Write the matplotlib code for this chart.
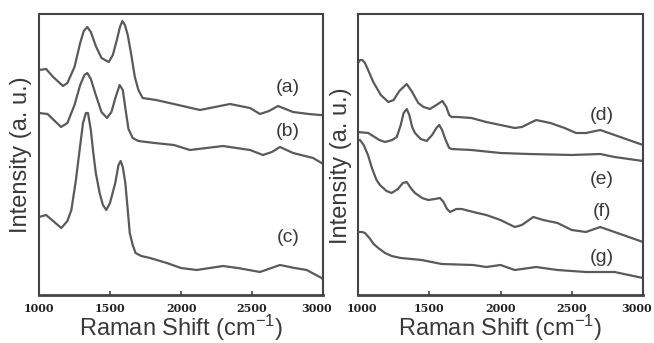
import numpy as np
import matplotlib
matplotlib.use("Agg")
import matplotlib.pyplot as plt
from matplotlib.transforms import ScaledTranslation

# ------------------------------------------------------------
# Raman spectra, intensities in arbitrary units
# ------------------------------------------------------------
x_a = [1000, 1050, 1100, 1169, 1200, 1250, 1290, 1315, 1340, 1365, 1400, 1440, 1491, 1520,
       1550, 1570, 1587, 1605, 1625, 1650, 1675, 1700, 1730, 1824, 1950, 2134, 2345, 2486,
       2556, 2620, 2683, 2789, 2900, 2979, 3000]
y_a = [225, 226, 218, 209, 212, 228, 252, 264, 268, 263, 249, 237, 233, 240,
       256, 268, 274, 270, 260, 240, 218, 205, 197, 195, 191, 185, 191, 187,
       181, 184, 189, 183, 181, 180, 180]

x_b = [1000, 1060, 1155, 1200, 1250, 1290, 1320, 1340, 1365, 1400, 1440, 1479, 1510, 1540,
       1568, 1590, 1610, 1630, 1660, 1700, 1815, 1950, 2063, 2296, 2486, 2577, 2640, 2697,
       2789, 2930, 2990, 3000]
y_b = [182, 181, 168, 172, 190, 210, 220, 222, 216, 200, 183, 177, 183, 198,
       210, 205, 185, 166, 157, 154, 152, 150, 145, 149, 145, 140, 143, 148,
       142, 137, 132, 131]

x_c = [1000, 1050, 1157, 1200, 1228, 1260, 1286, 1310, 1330, 1345, 1365, 1380, 1400, 1427,
       1450, 1474, 1500, 1537, 1560, 1575, 1590, 1608, 1625, 1639, 1660, 1680, 1720, 1782,
       1900, 2000, 2110, 2296, 2400, 2556, 2697, 2800, 2885, 2990, 3000]
y_c = [78, 80, 67, 74, 85, 115, 145, 172, 182, 182, 165, 145, 122, 102,
       90, 85, 92, 112, 130, 134, 128, 112, 85, 62, 50, 42, 39, 37,
       32, 27, 25, 29, 27, 23, 30, 27, 25, 17, 16]

x_d = [1000, 1014, 1030, 1049, 1080, 1107, 1160, 1213, 1250, 1290, 1342, 1380, 1423, 1460,
       1505, 1550, 1592, 1620, 1640, 1657, 1700, 1796, 1900, 2000, 2100, 2150, 2250, 2350,
       2450, 2530, 2600, 2700, 2800, 2900, 3000]
y_d = [232, 235, 235, 232, 222, 213, 200, 193, 195, 204, 211, 203, 192, 188,
       186, 190, 194, 188, 180, 178, 178, 177, 173, 170, 167, 168, 175, 172,
       167, 162, 162, 165, 160, 155, 150]

x_e = [1000, 1072, 1150, 1189, 1240, 1272, 1300, 1320, 1342, 1360, 1380, 1400, 1440, 1482,
       1520, 1550, 1570, 1590, 1615, 1640, 1657, 1796, 2000, 2200, 2500, 2700, 2800, 3000]
y_e = [163, 162, 155, 153, 155, 158, 170, 182, 186, 180, 168, 162, 156, 154,
       160, 167, 170, 165, 155, 147, 146, 145, 142, 141, 140, 141, 138, 134]

x_f = [1000, 1014, 1040, 1070, 1100, 1130, 1154, 1200, 1236, 1280, 1315, 1342, 1370, 1400,
       1450, 1493, 1540, 1575, 1600, 1625, 1646, 1690, 1728, 1809, 1900, 2000, 2100, 2150,
       2230, 2300, 2400, 2500, 2600, 2700, 2800, 2900, 3000]
y_f = [155, 155, 150, 140, 126, 115, 110, 104, 102, 106, 112, 113, 107, 102,
       97, 95, 96, 97, 93, 86, 83, 86, 86, 83, 80, 75, 68, 70,
       78, 75, 72, 65, 63, 68, 63, 58, 53]

x_g = [1000, 1030, 1049, 1080, 1110, 1142, 1190, 1236, 1300, 1447, 1587, 1809, 1900, 2000,
       2100, 2250, 2400, 2600, 2800, 3000]
y_g = [63, 63, 62, 57, 51, 47, 42, 39, 37, 35, 31, 30, 28, 30,
       25, 28, 25, 23, 23, 17]

labels_left = ["(a)", "(b)", "(c)"]
label_x_left = 2754
label_y_left = [208, 164, 57]

labels_right = ["(d)", "(e)", "(f)", "(g)"]
label_x_right = 2712
label_y_right = [180, 115, 84, 38]

xticks = [1000, 1500, 2000, 2500, 3000]

# ------------------------------------------------------------
# Figure
# ------------------------------------------------------------
plt.rcParams["font.family"] = ["Liberation Sans", "DejaVu Sans"]
plt.rcParams["mathtext.default"] = "regular"

fig = plt.figure(figsize=(6.54, 3.43), dpi=100)
ax1 = fig.add_axes([39 / 654, 48 / 343, 284 / 654, 281 / 343])
ax2 = fig.add_axes([358 / 654, 48 / 343, 285 / 654, 281 / 343])

line_color = "#5a5a5a"
frame_color = "#444444"
text_color = "#3a3a3a"

ax1.plot(x_a, y_a, color=line_color, lw=1.6)
ax1.plot(x_b, y_b, color=line_color, lw=1.6)
ax1.plot(x_c, y_c, color=line_color, lw=1.6)
for lab, ly in zip(labels_left, label_y_left):
    ax1.text(label_x_left, ly, lab, fontsize=14, color=text_color,
             ha="center", va="center")

ax2.plot(x_d, y_d, color=line_color, lw=1.6)
ax2.plot(x_e, y_e, color=line_color, lw=1.6)
ax2.plot(x_f, y_f, color=line_color, lw=1.6)
ax2.plot(x_g, y_g, color=line_color, lw=1.6)
for lab, ly in zip(labels_right, label_y_right):
    ax2.text(label_x_right, ly, lab, fontsize=14, color=text_color,
             ha="center", va="center")

for ax in (ax1, ax2):
    ax.set_xlim(1000, 3000)
    ax.set_ylim(0, 281)
    ax.set_xticks(xticks)
    ax.set_xticklabels([str(t) for t in xticks], family="DejaVu Serif",
                       fontweight="bold", fontsize=8, color="#222222")
    ax.set_yticks([])
    ax.tick_params(axis="x", direction="in", length=3, width=1.2,
                   color=frame_color, pad=6)
    for side in ax.spines.values():
        side.set_color(frame_color)
        side.set_linewidth(1.5)
    ax.spines["bottom"].set_linewidth(2)
    ax.set_xlabel("Raman Shift (cm$^{-1}$)", fontsize=17, color=text_color,
                  labelpad=-1)
    ax.set_ylabel("Intensity (a. u.)", fontsize=17, color=text_color)

ax1.yaxis.set_label_coords(-0.025, 0.50)
ax2.yaxis.set_label_coords(-0.021, 0.46)

# nudge the crowded edge labels so nothing gets clipped
for ax in (ax1, ax2):
    last = ax.get_xticklabels()[-1]
    last.set_transform(last.get_transform() + ScaledTranslation(-6 / 100, 0, fig.dpi_scale_trans))
first = ax2.get_xticklabels()[0]
first.set_transform(first.get_transform() + ScaledTranslation(4 / 100, 0, fig.dpi_scale_trans))

fig.savefig("out.png", dpi=100)
